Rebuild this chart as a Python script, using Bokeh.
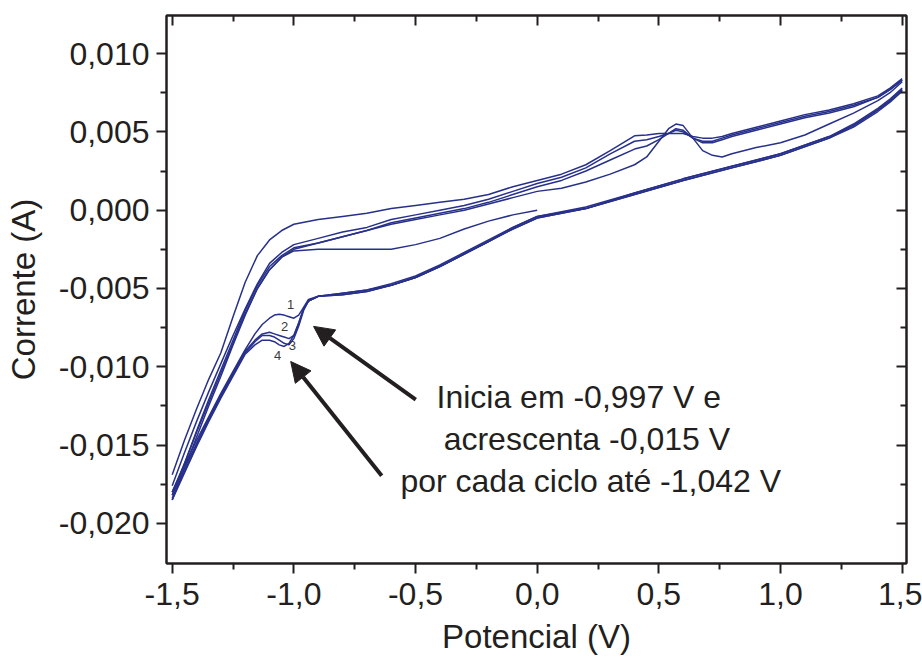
from bokeh.plotting import figure
from bokeh.models import (Range1d, FixedTicker, CustomJSTickFormatter, LinearAxis,
                          Label, Arrow, NormalHead)
from bokeh.embed import file_html
from bokeh.resources import INLINE

# ---------------- data ----------------
x_ticks = [-1.5, -1.0, -0.5, 0.0, 0.5, 1.0, 1.5]
x_minor = [-1.25, -0.75, -0.25, 0.25, 0.75, 1.25]
y_ticks = [-0.020, -0.015, -0.010, -0.005, 0.0, 0.005, 0.010]
y_minor = [-0.0175, -0.0125, -0.0075, -0.0025, 0.0025, 0.0075]

# initial sweep starting at 0 V
v_init = [0.0, -0.1, -0.2, -0.3, -0.4, -0.5, -0.6, -0.7, -0.8, -0.9, -1.0, -1.05,
          -1.1, -1.15, -1.2, -1.25, -1.3, -1.35, -1.4, -1.45, -1.5]
i_init = [0.0, -0.0003, -0.0007, -0.0012, -0.0018, -0.0022, -0.0025, -0.0025, -0.0025,
          -0.0025, -0.0026, -0.0030, -0.0038, -0.0050, -0.0067, -0.0086, -0.0106,
          -0.0125, -0.0145, -0.0165, -0.0185]

# upper branch (1.5 V -> -1.5 V), four cycles
v_up = [1.5, 1.45, 1.4, 1.3, 1.2, 1.1, 1.0, 0.9, 0.8, 0.76, 0.72, 0.68, 0.64, 0.6,
        0.57, 0.54, 0.5, 0.45, 0.4, 0.3, 0.2, 0.1, 0.0, -0.1, -0.2, -0.3, -0.4, -0.5,
        -0.6, -0.7, -0.8, -0.9, -1.0, -1.05, -1.1, -1.15, -1.2, -1.25, -1.3, -1.35,
        -1.4, -1.45, -1.5]
i_up_1 = [0.0084, 0.0078, 0.0073, 0.0068, 0.0064, 0.0061, 0.0057, 0.0053, 0.0049,
          0.0047, 0.0046, 0.0046, 0.0047, 0.0049, 0.0049, 0.0049, 0.0049, 0.0048,
          0.00475, 0.0038, 0.0029, 0.0023, 0.0019, 0.0015, 0.0010, 0.0007, 0.0005,
          0.0003, 0.0001, -0.0002, -0.0004, -0.0006, -0.0009, -0.0013, -0.0019,
          -0.0029, -0.0046, -0.0068, -0.0091, -0.0108, -0.0127, -0.0147, -0.0169]
i_up_2 = [0.0083, 0.0077, 0.0072, 0.0067, 0.0063, 0.0060, 0.0056, 0.0052, 0.0048,
          0.0046, 0.0044, 0.0044, 0.0046, 0.0050, 0.0051, 0.0049, 0.0047, 0.0045,
          0.0044, 0.0036, 0.0027, 0.0021, 0.0017, 0.0012, 0.0007, 0.0003, 0.0000,
          -0.0003, -0.0006, -0.0011, -0.0014, -0.0018, -0.0022, -0.0027, -0.0034,
          -0.0047, -0.0063, -0.0080, -0.0098, -0.0116, -0.0135, -0.0155, -0.0176]
i_up_3 = [0.0083, 0.0077, 0.0072, 0.0066, 0.0062, 0.0059, 0.0055, 0.0051, 0.0047,
          0.0045, 0.0043, 0.0043, 0.0046, 0.0051, 0.0052, 0.0049, 0.0045, 0.0041,
          0.0039, 0.0032, 0.0025, 0.0019, 0.0015, 0.0010, 0.0005, 0.0001, -0.0002,
          -0.0005, -0.0008, -0.0013, -0.0017, -0.0021, -0.0024, -0.0029, -0.0036,
          -0.0048, -0.0064, -0.0083, -0.0102, -0.0121, -0.0141, -0.0162, -0.0182]
i_up_4 = [0.0082, 0.0075, 0.0070, 0.0062, 0.0055, 0.0048, 0.0043, 0.0040, 0.0036,
          0.0034, 0.0035, 0.0038, 0.0046, 0.0054, 0.0055, 0.0052, 0.0044, 0.0034,
          0.0029, 0.0023, 0.0018, 0.0014, 0.0012, 0.0008, 0.0004, 0.0000, -0.0003,
          -0.0006, -0.0009, -0.0013, -0.0017, -0.0021, -0.0025, -0.0030, -0.0038,
          -0.0050, -0.0066, -0.0085, -0.0104, -0.0123, -0.0142, -0.0162, -0.0180]

# lower branch (-1.5 V -> 1.5 V), four cycles (feature near -1.0 V shifts each cycle)
v_low = [-1.5, -1.45, -1.4, -1.35, -1.3, -1.25, -1.2, -1.16, -1.13, -1.1, -1.08,
         -1.06, -1.04, -1.02, -1.0, -0.98, -0.96, -0.94, -0.9, -0.8, -0.7, -0.6,
         -0.5, -0.4, -0.3, -0.2, -0.1, 0.0, 0.2, 0.4, 0.6, 0.8, 1.0, 1.2, 1.3, 1.4,
         1.45, 1.5]
i_low_1 = [-0.0180, -0.0163, -0.0147, -0.0132, -0.0117, -0.0103, -0.0089, -0.0079,
           -0.0073, -0.0069, -0.0067, -0.00665, -0.0067, -0.0068, -0.0069, -0.0067,
           -0.0062, -0.0057, -0.0055, -0.0053, -0.0051, -0.0048, -0.0043, -0.0036,
           -0.0028, -0.0020, -0.0011, -0.0004, 0.0001, 0.0011, 0.0020, 0.0028,
           0.0036, 0.0047, 0.0055, 0.0065, 0.0071, 0.0078]
i_low_2 = [-0.0182, -0.0165, -0.0149, -0.0133, -0.0118, -0.0104, -0.0090, -0.0083,
           -0.0079, -0.0078, -0.0079, -0.0080, -0.0081, -0.0082, -0.0080, -0.0072,
           -0.0063, -0.0058, -0.0055, -0.0053, -0.0051, -0.0047, -0.0042, -0.0035,
           -0.0027, -0.0019, -0.0011, -0.0004, 0.0002, 0.0011, 0.0020, 0.0028,
           0.0036, 0.0047, 0.0054, 0.0064, 0.0070, 0.0077]
i_low_3 = [-0.0184, -0.0167, -0.0150, -0.0134, -0.0119, -0.0105, -0.0091, -0.0084,
           -0.0080, -0.0080, -0.0081, -0.0083, -0.0085, -0.0086, -0.0082, -0.0074,
           -0.0064, -0.0058, -0.0055, -0.0054, -0.0052, -0.0048, -0.0043, -0.0036,
           -0.0028, -0.0020, -0.0012, -0.0005, 0.0001, 0.0010, 0.0019, 0.0027,
           0.0035, 0.0046, 0.0054, 0.0064, 0.0070, 0.0077]
i_low_4 = [-0.0185, -0.0168, -0.0151, -0.0135, -0.0120, -0.0106, -0.0092, -0.0086,
           -0.0083, -0.0083, -0.0084, -0.0086, -0.0087, -0.0085, -0.0080, -0.0072,
           -0.0063, -0.0058, -0.0055, -0.0054, -0.0052, -0.0048, -0.0043, -0.0036,
           -0.0028, -0.0020, -0.0012, -0.0005, 0.0001, 0.0010, 0.0019, 0.0027,
           0.0035, 0.0046, 0.0053, 0.0063, 0.0069, 0.0076]

cycle_labels = ["1", "2", "3", "4"]
note_lines = ["Inicia em -0,997 V e", "acrescenta -0,015 V",
              "por cada ciclo até -1,042 V"]

# ---------------- figure ----------------
INK = "#231f20"
LINE = "#27308a"
FONT = "Liberation Sans"

p = figure(width=922, height=661, output_backend="svg", toolbar_location=None,
           x_range=Range1d(-1.5234, 1.5177), y_range=Range1d(-0.02256, 0.01243),
           min_border_left=166, min_border_right=16, min_border_top=15,
           min_border_bottom=98)
p.background_fill_color = "white"
p.border_fill_color = "white"
p.outline_line_color = INK
p.outline_line_width = 2
p.xgrid.visible = False
p.ygrid.visible = False

xfmt = CustomJSTickFormatter(code="return tick.toFixed(1).replace('.', ',');")
yfmt = CustomJSTickFormatter(code="return tick.toFixed(3).replace('.', ',');")
blank = CustomJSTickFormatter(code="return '';")

for ax in p.xaxis:
    ax.ticker = FixedTicker(ticks=x_ticks, minor_ticks=x_minor)
    ax.formatter = xfmt
    ax.axis_label = "Potencial (V)"
    ax.major_label_standoff = 9
    ax.axis_label_standoff = 10
for ax in p.yaxis:
    ax.ticker = FixedTicker(ticks=y_ticks, minor_ticks=y_minor)
    ax.formatter = yfmt
    ax.axis_label = "Corrente (A)"
    ax.major_label_standoff = 7
    ax.axis_label_standoff = 14

for ax in list(p.xaxis) + list(p.yaxis):
    ax.axis_line_color = INK
    ax.axis_line_width = 2
    ax.major_tick_line_color = INK
    ax.major_tick_line_width = 2
    ax.minor_tick_line_color = INK
    ax.minor_tick_line_width = 2
    ax.major_tick_in = 0
    ax.major_tick_out = 10
    ax.minor_tick_in = 0
    ax.minor_tick_out = 6
    ax.major_label_text_font = FONT
    ax.major_label_text_font_size = "32px"
    ax.major_label_text_color = INK
    ax.axis_label_text_font = FONT
    ax.axis_label_text_font_size = "33px"
    ax.axis_label_text_font_style = "normal"
    ax.axis_label_text_color = INK

# mirrored inner ticks on top and right
top_ax = LinearAxis(ticker=FixedTicker(ticks=x_ticks, minor_ticks=x_minor), formatter=blank)
right_ax = LinearAxis(ticker=FixedTicker(ticks=y_ticks, minor_ticks=y_minor), formatter=blank)
for ax in (top_ax, right_ax):
    ax.axis_line_color = INK
    ax.axis_line_width = 2
    ax.major_tick_line_color = INK
    ax.major_tick_line_width = 2
    ax.minor_tick_line_color = INK
    ax.minor_tick_line_width = 2
    ax.major_tick_in = 10
    ax.major_tick_out = 0
    ax.minor_tick_in = 6
    ax.minor_tick_out = 0
    ax.major_label_text_font_size = "0px"
    ax.major_label_standoff = 0
p.add_layout(top_ax, "above")
p.add_layout(right_ax, "right")

# curves
lw = 1.5
p.line(v_init, i_init, line_color=LINE, line_width=lw)
for iu in (i_up_1, i_up_2, i_up_3, i_up_4):
    p.line(v_up, iu, line_color=LINE, line_width=lw)
for il in (i_low_1, i_low_2, i_low_3, i_low_4):
    p.line(v_low, il, line_color=LINE, line_width=lw)

# cycle numbers
num_pos = [(-1.013, -0.0060), (-1.038, -0.00742), (-1.006, -0.00864), (-1.067, -0.00928)]
for txt, (xx, yy) in zip(cycle_labels, num_pos):
    p.add_layout(Label(x=xx, y=yy, text=txt, text_font=FONT, text_font_size="13px",
                       text_color="#3a3a3a", text_align="center",
                       text_baseline="middle"))

# arrows
for (xs, ys, xe, ye) in [(-0.499, -0.01209, -0.919, -0.00742),
                         (-0.639, -0.01695, -1.013, -0.00966)]:
    p.add_layout(Arrow(end=NormalHead(size=20, fill_color=INK, line_color=INK),
                       x_start=xs, y_start=ys, x_end=xe, y_end=ye,
                       line_color=INK, line_width=4))

# note text
note_pos = [(0.171, -0.01196), (0.204, -0.01460), (0.220, -0.01730)]
for txt, (xx, yy) in zip(note_lines, note_pos):
    p.add_layout(Label(x=xx, y=yy, text=txt, text_font=FONT, text_font_size="32px",
                       text_color=INK, text_align="center",
                       text_baseline="alphabetic"))

open("out.html", "w").write(file_html(p, INLINE))
